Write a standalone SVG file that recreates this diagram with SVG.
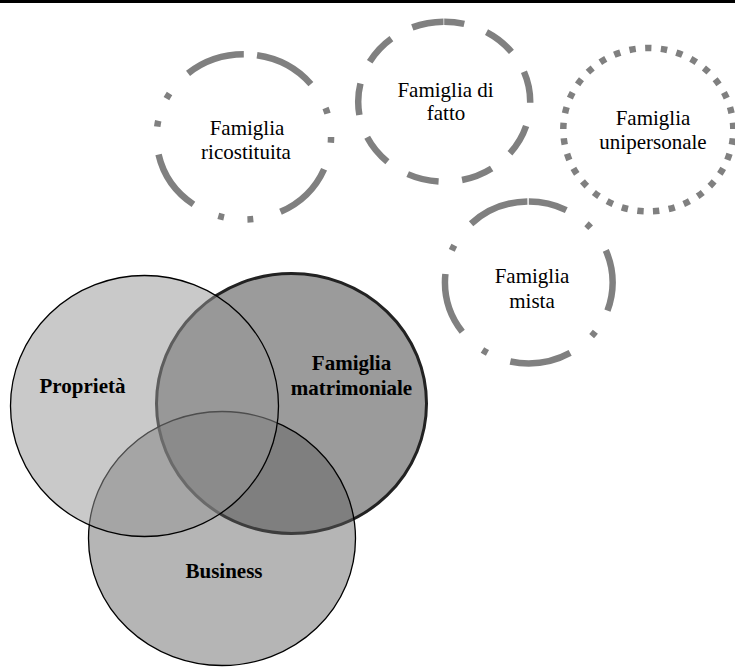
<svg xmlns="http://www.w3.org/2000/svg" width="735" height="667" viewBox="0 0 735 667">
<style>
.lbl{font-family:"Liberation Serif","Times New Roman",serif;font-size:21px;fill:#000;text-anchor:middle}
.b{font-weight:bold}
.ring{fill:none;stroke:#808080;stroke-width:6.5;stroke-linecap:butt}
</style>
<rect x="0" y="0" width="735" height="667" fill="#fff"/>
<rect x="0" y="0" width="735" height="3" fill="#000"/>
<g id="venn">
<g id="matrimoniale"><ellipse cx="291.5" cy="403.5" rx="135" ry="130" fill="#9b9b9b" stroke="#222" stroke-width="3"/></g>
<g id="business"><ellipse cx="222" cy="538.5" rx="133.5" ry="127" fill="#5e5e5e" fill-opacity="0.46" stroke="#000" stroke-width="1.3"/></g>
<g id="proprieta"><ellipse cx="144.5" cy="406" rx="134" ry="130.5" fill="#969696" fill-opacity="0.514" stroke="#000" stroke-width="1.3"/></g>
<text class="lbl b" x="82.5" y="393">Proprietà</text>
<text class="lbl b" x="351.5" y="370">Famiglia</text>
<text class="lbl b" x="351.5" y="395">matrimoniale</text>
<text class="lbl b" x="224" y="578">Business</text>
</g>
<g id="ricostituita">
<path class="ring" pathLength="360" stroke-dasharray="42 19 4 16 4 18.5" stroke-dashoffset="-9" d="M243.8,54.3 A87.25,82.6 0 0 1 243.8,219.5 A87.25,82.6 0 0 1 243.8,54.3Z"/>
<text class="lbl" x="247" y="135">Famiglia</text>
<text class="lbl" x="246" y="159">ricostituita</text>
</g>
<g id="difatto">
<path class="ring" pathLength="360" stroke-dasharray="22 16.39" stroke-dashoffset="8" d="M444.2,21.7 A86,80 0 0 1 444.2,181.7 A86,80 0 0 1 444.2,21.7Z"/>
<text class="lbl" x="445.5" y="96.5">Famiglia di</text>
<text class="lbl" x="446" y="120">fatto</text>
</g>
<g id="unipersonale">
<path class="ring" pathLength="360" stroke-dasharray="4.4 6.509" stroke-dashoffset="2.2" d="M648.3,48 A85,81.7 0 0 1 648.3,211.4 A85,81.7 0 0 1 648.3,48Z"/>
<text class="lbl" x="653" y="125">Famiglia</text>
<text class="lbl" x="653" y="148.5">unipersonale</text>
</g>
<g id="mista">
<path class="ring" pathLength="360" stroke-dasharray="43 17 4 19" stroke-dashoffset="16" d="M528.8,201.5 A83.9,81 0 0 1 528.8,363.5 A83.9,81 0 0 1 528.8,201.5Z"/>
<text class="lbl" x="532" y="283">Famiglia</text>
<text class="lbl" x="532" y="308">mista</text>
</g>
</svg>
